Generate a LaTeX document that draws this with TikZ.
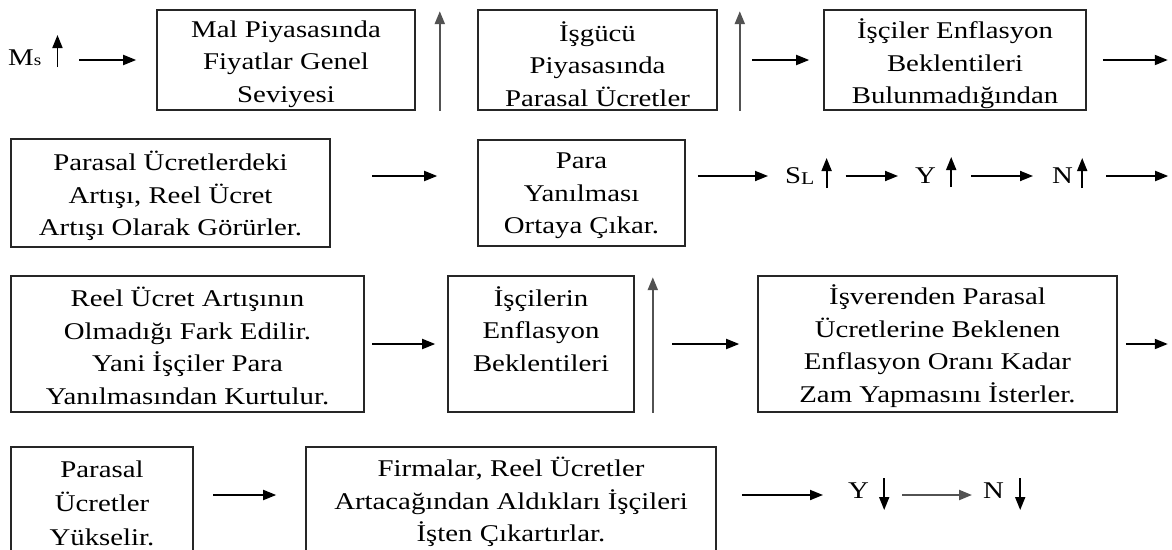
\documentclass[tikz,border=0pt]{standalone}
\usepackage{fontspec}
\setmainfont{Liberation Serif}[FakeStretch=1.2]
\usetikzlibrary{arrows.meta,calc}
\newcommand\bxfont{\fontsize{24}{32.5}\selectfont}
\newcommand\smallsub[1]{{\fontsize{16}{16}\selectfont #1}}
\begin{document}
\begin{tikzpicture}[x=1pt,y=-1pt,
  box/.style={draw=black!85,line width=1.6pt,inner sep=0pt},
  txt/.style={inner sep=0pt,align=center,font=\bxfont},
  sym/.style={inner sep=0pt,font=\bxfont,anchor=west},
  arr/.style={line width=1.8pt,-{Triangle[length=13pt,width=10pt]}},
  garr/.style={arr,draw=black!68,line width=2.2pt},
]
\useasboundingbox (0,0) rectangle (1172,549);
\clip (0,0) rectangle (1172,549);
% ---- row 1
\node[sym] (ms) at (8,58) {M\smallsub{s}};
\draw[arr] ($(ms.east)+(16,9)$) -- ++(0,-32);
\node[box,minimum width=258pt,minimum height=100pt] (b1) at (286,60) {};
\node[txt] (b1t) at ([yshift=-4pt]b1.center) {Mal Piyasasında\\Fiyatlar Genel\\Seviyesi};
\draw[arr] ([xshift=-77pt]b1.west) -- ([xshift=-20pt]b1.west);
\draw[garr] ([xshift=24pt]b1.south east) -- ([xshift=24pt,yshift=-2pt]b1.north east);
\node[box,minimum width=239pt,minimum height=100pt] (b2) at (597.5,60) {};
\node[txt] (b2t) at ([yshift=-4pt]b2.center) {İşgücü\\Piyasasında\\Parasal Ücretler};
\draw[garr] ([xshift=22pt]b2.south east) -- ([xshift=22pt,yshift=-2pt]b2.north east);
\node[box,minimum width=262pt,minimum height=100pt] (b3) at (955,60) {};
\node[txt] (b3t) at ([yshift=-4pt]b3.center) {İşçiler Enflasyon\\Beklentileri\\Bulunmadığından};
\draw[arr] ([xshift=-71pt]b3.west) -- ([xshift=-14pt]b3.west);
\draw[arr] ([xshift=16pt]b3.east) -- ([xshift=81pt]b3.east);
% ---- row 2
\node[box,minimum width=319pt,minimum height=108pt] (b4) at (170.5,193) {};
\node[txt] (b4t) at ([yshift=-3pt]b4.center) {Parasal Ücretlerdeki\\Artışı, Reel Ücret\\Artışı Olarak Görürler.};
\node[box,minimum width=207pt,minimum height=106pt] (b5) at (581.5,193) {};
\node[txt] (b5t) at ([yshift=-3pt]b5.center) {Para\\Yanılması\\Ortaya Çıkar.};
\draw[arr] ([xshift=-105pt,yshift=17pt]b5.west) -- ([xshift=-40pt,yshift=17pt]b5.west);
\node[sym] (sl) at (785,176) {S\raisebox{-1pt}{\fontsize{18}{18}\selectfont L}};
\node[sym] (y1) at (915,176) {Y};
\node[sym] (n1) at (1052,176) {N};
\draw[arr] ([xshift=12pt,yshift=17pt]b5.east) -- ([xshift=-17pt]sl.west);
\draw[arr] ($(sl.east)+(12,12)$) -- ++(0,-30);
\draw[arr] ($(sl.east)+(31,0)$) -- ([xshift=-17pt]y1.west);
\draw[arr] ($(y1.east)+(15,11)$) -- ++(0,-30);
\draw[arr] ($(y1.east)+(35,0)$) -- ([xshift=-19pt]n1.west);
\draw[arr] ($(n1.east)+(9,12)$) -- ++(0,-30);
\draw[arr] ($(n1.east)+(33,0)$) -- ++(62,0);
% ---- row 3
\node[box,minimum width=353pt,minimum height=136pt] (b6) at (187.5,344) {};
\node[txt] (b6t) at ([yshift=-2pt]b6.center) {Reel Ücret Artışının\\Olmadığı Fark Edilir.\\Yani İşçiler Para\\Yanılmasından Kurtulur.};
\node[box,minimum width=186pt,minimum height=136pt] (b7) at (541,344) {};
\node[txt,anchor=north] (b7t) at ([yshift=-11pt]b7.north) {İşçilerin\\Enflasyon\\Beklentileri};
\draw[arr] ([xshift=-75pt]b7.west) -- ([xshift=-12pt]b7.west);
\draw[garr] ([xshift=18pt]b7.south east) -- ([xshift=18pt,yshift=-2pt]b7.north east);
\node[box,minimum width=359pt,minimum height=136pt] (b8) at (937.5,344) {};
\node[txt] (b8t) at ([yshift=-2pt]b8.center) {İşverenden Parasal\\Ücretlerine Beklenen\\Enflasyon Oranı Kadar\\Zam Yapmasını İsterler.};
\draw[arr] ([xshift=-85pt]b8.west) -- ([xshift=-18pt]b8.west);
\draw[arr] ([xshift=8pt]b8.east) -- ([xshift=50pt]b8.east);
% ---- row 4
\node[box,minimum width=182pt,minimum height=110pt] (b9) at (102,502) {};
\node[txt,anchor=north,font=\fontsize{24}{34}\selectfont] (b9t) at ([yshift=-14pt]b9.north) {Parasal\\Ücretler\\Yükselir.};
\node[box,minimum width=410pt,minimum height=110pt] (b10) at (511,502) {};
\node[txt,anchor=north] (b10t) at ([yshift=-11pt]b10.north) {Firmalar, Reel Ücretler\\Artacağından Aldıkları İşçileri\\İşten Çıkartırlar.};
\draw[arr] ([xshift=-92pt,yshift=7pt]b10.west) -- ([xshift=-29pt,yshift=7pt]b10.west);
\node[sym] (y2) at (848,491) {Y};
\node[sym] (n2) at (983,491) {N};
\draw[arr] ([xshift=25pt,yshift=7pt]b10.east) -- ([xshift=-25pt,yshift=-4pt]y2.west);
\draw[arr] ($(y2.east)+(15,-13)$) -- ++(0,32);
\draw[garr] ($(y2.east)+(33,4)$) -- ([xshift=-11pt,yshift=-4pt]n2.west);
\draw[arr] ($(n2.east)+(16,-13)$) -- ++(0,32);
\end{tikzpicture}
\end{document}
